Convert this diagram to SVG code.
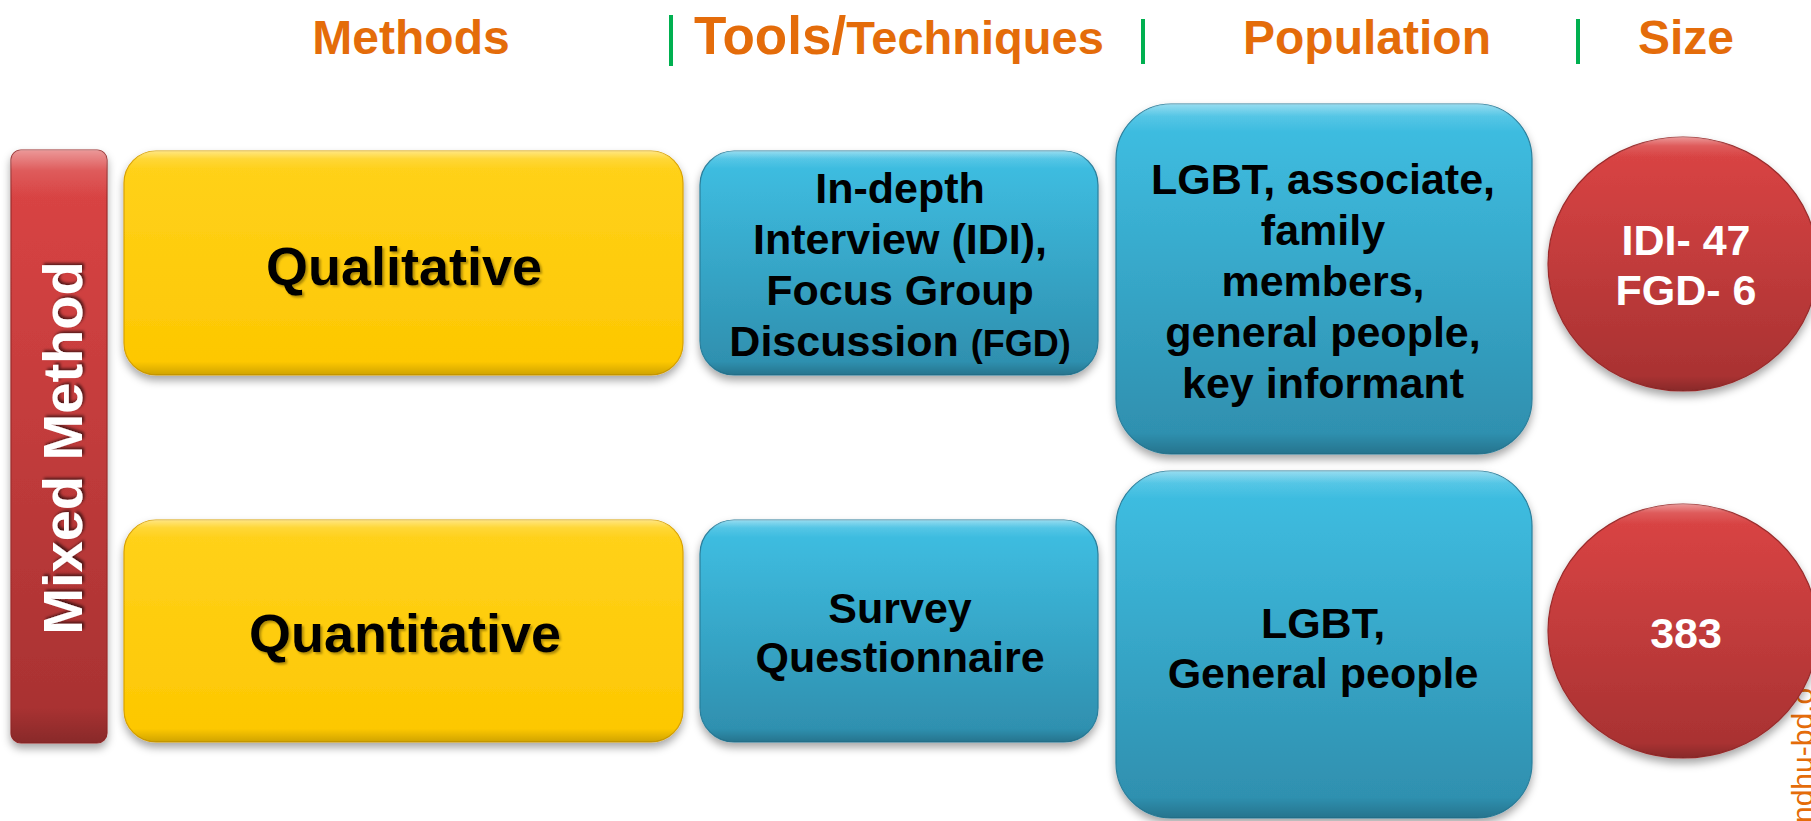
<svg xmlns="http://www.w3.org/2000/svg" width="1811" height="821" viewBox="0 0 1811 821">
  <defs>
    <linearGradient id="gYellow" x1="0" y1="0" x2="0" y2="1">
      <stop offset="0" stop-color="#FFD21C"/>
      <stop offset="1" stop-color="#FDC700"/>
    </linearGradient>
    <linearGradient id="gBlue" x1="0" y1="0" x2="0" y2="1">
      <stop offset="0" stop-color="#3FC0E4"/>
      <stop offset="1" stop-color="#2E8DAC"/>
    </linearGradient>
    <linearGradient id="gRed" x1="0" y1="0" x2="0" y2="1">
      <stop offset="0" stop-color="#DC4545"/>
      <stop offset="1" stop-color="#A63131"/>
    </linearGradient>
    <!-- bevel: light rim at the top, darker rim at the bottom -->
    <linearGradient id="gBevel" x1="0" y1="0" x2="0" y2="1">
      <stop offset="0" stop-color="#FFFFFF" stop-opacity="0.45"/>
      <stop offset="0.035" stop-color="#FFFFFF" stop-opacity="0.12"/>
      <stop offset="0.08" stop-color="#FFFFFF" stop-opacity="0"/>
      <stop offset="0.94" stop-color="#000000" stop-opacity="0"/>
      <stop offset="1" stop-color="#000000" stop-opacity="0.18"/>
    </linearGradient>
    <filter id="shadow" x="-10%" y="-10%" width="120%" height="125%">
      <feDropShadow dx="0" dy="5" stdDeviation="4" flood-color="#000000" flood-opacity="0.35"/>
    </filter>
    <filter id="txtDark" x="-5%" y="-20%" width="110%" height="140%">
      <feDropShadow dx="2" dy="2" stdDeviation="1" flood-color="#6B5200" flood-opacity="0.55"/>
    </filter>
    <filter id="txtWhite" x="-20%" y="-5%" width="140%" height="110%">
      <feDropShadow dx="2" dy="2" stdDeviation="1.5" flood-color="#000000" flood-opacity="0.6"/>
    </filter>
  </defs>
  <style>
    text { font-family: "Liberation Sans", Arial, sans-serif; font-weight: bold; }
    .head { fill: #E46C0A; font-size: 48px; }
    .sep { fill: #00B050; }
    .yellow { fill: url(#gYellow); stroke: #D9A200; stroke-width: 1.2; filter: url(#shadow); }
    .blue { fill: url(#gBlue); stroke: #2A7F9C; stroke-width: 1.2; filter: url(#shadow); }
    .red { fill: url(#gRed); stroke: #9A2C2C; stroke-width: 1.2; filter: url(#shadow); }
    .bevel { fill: url(#gBevel); }
    .big { fill: #000000; font-size: 54px; text-anchor: middle; filter: url(#txtDark); }
    .body { fill: #000000; font-size: 43px; text-anchor: middle; }
    .white { fill: #FFFFFF; font-size: 43px; text-anchor: middle; }
    .vertical { fill: #FFFFFF; font-size: 56px; text-anchor: middle; filter: url(#txtWhite); }
    .mark { fill: #E46C0A; font-weight: normal; font-size: 30px; }
  </style>

  <rect width="1811" height="821" fill="#FFFFFF"/>

  <!-- column headings -->
  <g id="headings">
    <text class="head" x="411" y="54" text-anchor="middle">Methods</text>
    <rect class="sep" x="669" y="15" width="4" height="51"/>
    <text class="head" x="694" y="54"><tspan font-size="53">Tools/</tspan><tspan font-size="47">Techniques</tspan></text>
    <rect class="sep" x="1141" y="19" width="4" height="45"/>
    <text class="head" x="1367" y="54" text-anchor="middle">Population</text>
    <rect class="sep" x="1576" y="19" width="4" height="45"/>
    <text class="head" x="1686" y="54" text-anchor="middle">Size</text>
  </g>

  <!-- site watermark along the right edge -->
  <text class="mark" transform="translate(1813,823) rotate(-90)">ndhu-bd.o</text>

  <g id="mixed-method">
    <rect class="red" x="11" y="150" width="96" height="593" rx="10"/>
    <rect class="bevel" x="11" y="150" width="96" height="593" rx="10"/>
    <text class="vertical" transform="translate(82,448) rotate(-90)">Mixed Method</text>
  </g>

  <g id="qualitative">
    <rect class="yellow" x="124" y="151" width="559" height="224" rx="32"/>
    <rect class="bevel" x="124" y="151" width="559" height="224" rx="32"/>
    <text class="big" x="404" y="285">Qualitative</text>
  </g>

  <g id="quantitative">
    <rect class="yellow" x="124" y="520" width="559" height="222" rx="32"/>
    <rect class="bevel" x="124" y="520" width="559" height="222" rx="32"/>
    <text class="big" x="405" y="652">Quantitative</text>
  </g>

  <g id="tools-qualitative">
    <rect class="blue" x="700" y="151" width="398" height="224" rx="34"/>
    <rect class="bevel" x="700" y="151" width="398" height="224" rx="34"/>
    <text class="body" x="900" y="203">In-depth</text>
    <text class="body" x="900" y="254">Interview (IDI),</text>
    <text class="body" x="900" y="305">Focus Group</text>
    <text class="body" x="900" y="356">Discussion <tspan font-size="36">(FGD)</tspan></text>
  </g>

  <g id="tools-quantitative">
    <rect class="blue" x="700" y="520" width="398" height="222" rx="34"/>
    <rect class="bevel" x="700" y="520" width="398" height="222" rx="34"/>
    <text class="body" x="900" y="623">Survey</text>
    <text class="body" x="900" y="672">Questionnaire</text>
  </g>

  <g id="population-qualitative">
    <rect class="blue" x="1116" y="104" width="416" height="350" rx="55"/>
    <rect class="bevel" x="1116" y="104" width="416" height="350" rx="55"/>
    <text class="body" x="1323" y="194">LGBT, associate,</text>
    <text class="body" x="1323" y="245">family</text>
    <text class="body" x="1323" y="296">members,</text>
    <text class="body" x="1323" y="347">general people,</text>
    <text class="body" x="1323" y="398">key informant</text>
  </g>

  <g id="population-quantitative">
    <rect class="blue" x="1116" y="471" width="416" height="347" rx="55"/>
    <rect class="bevel" x="1116" y="471" width="416" height="347" rx="55"/>
    <text class="body" x="1323" y="638">LGBT,</text>
    <text class="body" x="1323" y="688">General people</text>
  </g>

  <g id="size-qualitative">
    <ellipse class="red" cx="1683" cy="264" rx="135" ry="127"/>
    <ellipse class="bevel" cx="1683" cy="264" rx="135" ry="127"/>
    <text class="white" x="1686" y="255">IDI- 47</text>
    <text class="white" x="1686" y="305">FGD- 6</text>
  </g>

  <g id="size-quantitative">
    <ellipse class="red" cx="1683" cy="631" rx="135" ry="127"/>
    <ellipse class="bevel" cx="1683" cy="631" rx="135" ry="127"/>
    <text class="white" x="1686" y="648">383</text>
  </g>
</svg>
